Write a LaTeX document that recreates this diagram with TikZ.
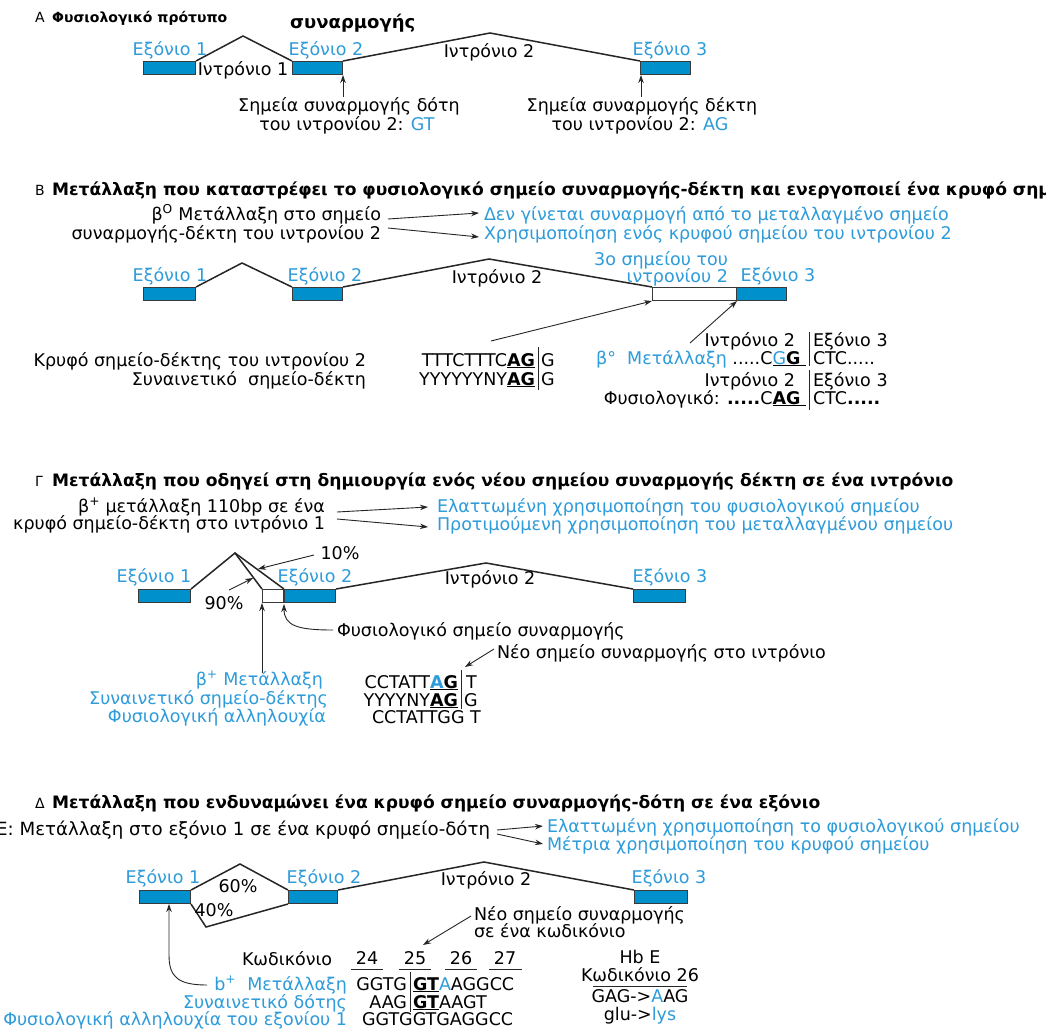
\documentclass[tikz,border=0pt]{standalone}
\usepackage{fontspec}
\setmainfont{DejaVu Sans}
\usetikzlibrary{arrows.meta}
\definecolor{exonblue}{HTML}{0090CC}
\definecolor{txtblue}{HTML}{2E9BDA}
\definecolor{edgegray}{HTML}{3A3A3A}
\begin{document}
\begin{tikzpicture}[x=1pt,y=-1pt,
 t/.style={font=\fontsize{17.5}{19.5}\selectfont, inner sep=0pt, outer sep=0pt},
 bl/.style={t, text=txtblue},
 hd/.style={font=\bfseries\fontsize{17.1}{19}\selectfont, inner sep=0pt, anchor=base west},
 lettr/.style={font=\fontsize{14}{16}\selectfont, inner sep=0pt, anchor=base west},
 exon/.style={draw=edgegray, fill=exonblue, line width=1pt, inner sep=0pt, minimum height=13pt, anchor=north west},
 wbox/.style={exon, fill=white},
 intr/.style={line width=1.5pt, black!85, line join=miter},
 arr/.style={-{Stealth[length=8pt,width=5.5pt]}, line width=0.9pt, black!85},
 sepbar/.style={line width=0.9pt, black!85},
 uline/.style={line width=0.9pt, black!85}
]
\useasboundingbox (0,0) rectangle (1046,1030);
\fill[white] (0,0) rectangle (1046,1030);

% ---------------- A ----------------
\node[lettr] (LA) at (35,23) {Α};
\node[hd, font=\bfseries\fontsize{14}{16}\selectfont] (HA) at (52,23) {Φυσιολογικό πρότυπο};
\node[font=\bfseries\fontsize{18}{20}\selectfont, inner sep=0pt, anchor=base west] (HA2) at (290,29) {συναρμογής};

\node[exon, minimum width=52pt] (A1) at (143,61) {};
\node[exon, minimum width=50pt] (A2) at (292,61) {};
\node[exon, minimum width=50pt] (A3) at (640,61) {};
\coordinate (Ap1) at (243,36);
\coordinate (Ap2) at (490,33);
\draw[intr] (A1.north east) -- (Ap1) -- (A2.north west);
\draw[intr] (A2.north east) -- (Ap2) -- (A3.north west);
\node[bl] (Ae1) at (170,50) {Εξόνιο 1};
\node[bl] (Ae2) at (326,50) {Εξόνιο 2};
\node[bl] (Ae3) at (670,50) {Εξόνιο 3};
\node[t] (Ai1) at (243,70) {Ιντρόνιο 1};
\node[t] (Ai2) at (489,52) {Ιντρόνιο 2};

\node[t, anchor=base] (Ad1) at (349,112) {Σημεία συναρμογής δότη};
\node[t, anchor=base] (Ad2) at (347,131) {του ιντρονίου 2: \textcolor{txtblue}{GT}};
\node[t, anchor=base] (Aa1) at (642,112) {Σημεία συναρμογής δέκτη};
\node[t, anchor=base] (Aa2) at (640,131) {του ιντρονίου 2: \textcolor{txtblue}{AG}};
\coordinate (Ad0) at (343,97);
\coordinate (Aa0) at (641,97);
\draw[arr] (Ad0) -- (Ad0 |- A2.south);
\draw[arr] (Aa0) -- (Aa0 |- A3.south);

% ---------------- B ----------------
\node[lettr] (LB) at (35,195) {Β};
\node[hd] (HB) at (52,195) {Μετάλλαξη που καταστρέφει το φυσιολογικό σημείο συναρμογής-δέκτη και ενεργοποιεί ένα κρυφό σημείο};

\node[t, anchor=base east] (Bm1) at (381,220) {β\textsuperscript{O} Μετάλλαξη στο σημείο};
\node[t, anchor=base east] (Bm2) at (381,239) {συναρμογής-δέκτη του ιντρονίου 2};
\node[bl, anchor=base west] (Bt1) at (484,220) {Δεν γίνεται συναρμογή από το μεταλλαγμένο σημείο};
\node[bl, anchor=base west] (Bt2) at (484,239) {Χρησιμοποίηση ενός κρυφού σημείου του ιντρονίου 2};
\coordinate (Bs1) at (388,219);
\coordinate (Bs2) at (388,228);
\coordinate (Bf1) at (479,213);
\coordinate (Bf2) at (479,237);
\draw[arr] (Bs1) -- (Bf1);
\draw[arr] (Bs2) -- (Bf2);

\node[exon, minimum width=52pt] (B1) at (143,287) {};
\node[exon, minimum width=50pt] (B2) at (292,287) {};
\node[wbox, minimum width=84pt] (Bw) at (652,287) {};
\node[exon, minimum width=50pt] (B3) at (736,287) {};
\coordinate (Bp1) at (242,263);
\coordinate (Bp2) at (489,259);
\draw[intr] (B1.north east) -- (Bp1) -- (B2.north west);
\draw[intr] (B2.north east) -- (Bp2) -- (Bw.north west);
\node[bl] (Be1) at (170,276) {Εξόνιο 1};
\node[bl] (Be2) at (325,276) {Εξόνιο 2};
\node[t] (Bi2) at (497,278) {Ιντρόνιο 2};
\node[bl, anchor=base east] (Bc1) at (728,265) {3ο σημείου του};
\node[bl, anchor=base east] (Bc2) at (728,282) {ιντρονίου 2};
\node[bl] (Be3) at (778,276) {Εξόνιο 3};

\node[t, anchor=base east] (Bk1) at (366,366) {Κρυφό σημείο-δέκτης του ιντρονίου 2};
\node[t, anchor=base east] (Bk2) at (366,385) {Συναινετικό\ \ σημείο-δέκτη};
\node[t, anchor=base east] (Bq1) at (535,366) {TTTCTTTC\underline{\textbf{AG}}};
\node[t, anchor=base west] (Bq1r) at (541,366) {G};
\node[t, anchor=base east] (Bq2) at (535,385) {YYYYYYNY\underline{\textbf{AG}}};
\node[t, anchor=base west] (Bq2r) at (541,385) {G};
\coordinate (Bv1) at (538,347);
\coordinate (Bv2) at (538,390);
\draw[sepbar] (Bv1) -- (Bv2);
\coordinate (Bk0) at (491,341);
\draw[arr] (Bk0) -- (Bw.south west);

\node[t, anchor=base east] (Bi3) at (795,346) {Ιντρόνιο 2};
\node[t, anchor=base west] (Be4) at (813,346) {Εξόνιο 3};
\node[t, anchor=base east] (Bmu) at (806,364) {\textcolor{txtblue}{β°\ \ Μετάλλαξη} .....C\underline{\textcolor{txtblue}{G}\textbf{G}\ }};
\node[t, anchor=base west] (Bmur) at (813,364) {CTC.....};
\node[t, anchor=base east] (Bi4) at (795,386) {Ιντρόνιο 2};
\node[t, anchor=base west] (Be5) at (813,386) {Εξόνιο 3};
\node[t, anchor=base east] (Bph) at (806,404) {Φυσιολογικό: \textbf{.....}C\underline{\textbf{AG}\ }};
\node[t, anchor=base west] (Bphr) at (813,404) {CTC\textbf{.....}};
\coordinate (Bv3) at (809,332);
\coordinate (Bv4) at (809,366);
\coordinate (Bv5) at (809,370);
\coordinate (Bv6) at (809,410);
\draw[sepbar] (Bv3) -- (Bv4);
\draw[sepbar] (Bv5) -- (Bv6);
\coordinate (Bb0) at (690,343);
\draw[arr] (Bb0) -- (Bw.south east);

% ---------------- Gamma ----------------
\node[lettr] (LG) at (35,486) {Γ};
\node[hd] (HG) at (52,486) {Μετάλλαξη που οδηγεί στη δημιουργία ενός νέου σημείου συναρμογής δέκτη σε ένα ιντρόνιο};

\node[t, anchor=base east] (Gm1) at (325,512) {β\textsuperscript{+} μετάλλαξη 110bp σε ένα};
\node[t, anchor=base east] (Gm2) at (325,529) {κρυφό σημείο-δέκτη στο ιντρόνιο 1};
\node[bl, anchor=base west] (Gb1) at (437,512) {Ελαττωμένη χρησιμοποίηση του φυσιολογικού σημείου};
\node[bl, anchor=base west] (Gb2) at (437,530) {Προτιμούμενη χρησιμοποίηση του μεταλλαγμένου σημείου};
\coordinate (Gs1) at (337,512);
\coordinate (Gs2) at (337,519);
\coordinate (Gf1) at (428,507);
\coordinate (Gf2) at (428,527);
\draw[arr] (Gs1) -- (Gf1);
\draw[arr] (Gs2) -- (Gf2);

\node[exon, minimum width=52pt] (G1) at (138,589) {};
\node[wbox, minimum width=21pt] (Gw) at (262,589) {};
\node[exon, minimum width=51pt] (G2) at (284,589) {};
\node[exon, minimum width=52pt] (G3) at (633,589) {};
\coordinate (Gp1) at (235,553);
\coordinate (Gp2) at (486,563);
\draw[intr] (G1.north east) -- (Gp1) -- (Gw.north west);
\draw[intr] (Gp1) -- (G2.north west);
\draw[intr] (G2.north east) -- (Gp2) -- (G3.north west);
\node[bl] (Ge1) at (154,577) {Εξόνιο 1};
\node[bl] (Ge2) at (315,577) {Εξόνιο 2};
\node[t] (Gi2) at (490,579) {Ιντρόνιο 2};
\node[bl] (Ge3) at (670,577) {Εξόνιο 3};
\node[t] (G10) at (340,553) {10\%};
\node[t] (G90) at (224,603) {90\%};
\coordinate (G10a) at (314,555);
\coordinate (G10b) at (258,569);
\draw[arr] (G10a) -- (G10b);
\coordinate (G90a) at (229,590);
\coordinate (G90b) at (253,578);
\draw[arr] (G90a) -- (G90b);

\coordinate (Gup) at (262,673);
\draw[arr] (Gup) -- (Gup |- Gw.south);
\node[t, anchor=base west] (Gf) at (337,636) {Φυσιολογικό σημείο συναρμογής};
\coordinate (Gc0) at (333,630);
\coordinate (Gc1) at (284,604);
\draw[arr] (Gc0) .. controls (298,630) and (284,626) .. (Gc1);
\node[t, anchor=base west] (Gn) at (497,658) {Νέο σημείο συναρμογής στο ιντρόνιο};
\coordinate (Gn0) at (494,649);
\coordinate (Gn1) at (465,667);
\draw[arr] (Gn0) -- (Gn1);

\node[bl, anchor=base east] (Gl1) at (323,685) {β\textsuperscript{+} Μετάλλαξη};
\node[bl, anchor=base east] (Gl2) at (328,704) {Συναινετικό σημείο-δέκτης};
\node[bl, anchor=base east] (Gl3) at (326,722) {Φυσιολογική αλληλουχία};
\node[t, anchor=base east] (Gq1) at (458,688) {CCTATT\underline{\textcolor{txtblue}{\textbf{A}}\textbf{G}}};
\node[t, anchor=base west] (Gq1r) at (466,688) {T};
\node[t, anchor=base east] (Gq2) at (458,706) {YYYYNY\underline{\textbf{AG}}};
\node[t, anchor=base west] (Gq2r) at (464,706) {G};
\node[t, anchor=base west] (Gq3) at (372,723) {CCTATTGG T};
\coordinate (Gv1) at (461,670);
\coordinate (Gv2) at (461,709);
\draw[sepbar] (Gv1) -- (Gv2);

% ---------------- Delta ----------------
\node[lettr] (LD) at (35,808) {Δ};
\node[hd] (HD) at (52,808) {Μετάλλαξη που ενδυναμώνει ένα κρυφό σημείο συναρμογής-δότη σε ένα εξόνιο};

\node[t, font=\fontsize{18.2}{20}\selectfont, anchor=base east] (Dm) at (490,835) {Ε: Μετάλλαξη στο εξόνιο 1 σε ένα κρυφό σημείο-δότη};
\node[bl, anchor=base west] (Db1) at (547,832) {Ελαττωμένη χρησιμοποίηση το φυσιολογικού σημείου};
\node[bl, anchor=base west] (Db2) at (547,850) {Μέτρια χρησιμοποίηση του κρυφού σημείου};
\coordinate (Ds1) at (497,830);
\coordinate (Ds2) at (497,834);
\coordinate (Df1) at (543,826);
\coordinate (Df2) at (543,844);
\draw[arr] (Ds1) -- (Df1);
\draw[arr] (Ds2) -- (Df2);

\node[exon, minimum width=51pt] (D1) at (139,890) {};
\node[exon, minimum width=49pt] (D2) at (288,890) {};
\node[exon, minimum width=53pt] (D3) at (634,890) {};
\coordinate (Dp1) at (240,864);
\coordinate (Dp2) at (484,862);
\coordinate (Dlow) at (206,927);
\draw[intr] (D1.north east) -- (Dp1) -- (D2.north west);
\draw[intr] (D1.south east) -- (Dlow) -- (D2.south west);
\draw[intr] (D2.north east) -- (Dp2) -- (D3.north west);
\node[bl] (De1) at (163,878) {Εξόνιο 1};
\node[t] (D60) at (238,886) {60\%};
\node[bl] (De2) at (324,878) {Εξόνιο 2};
\node[t] (Di2) at (486,880) {Ιντρόνιο 2};
\node[bl] (De3) at (669,878) {Εξόνιο 3};
\node[t] (D40) at (214,910) {40\%};

\node[t, anchor=base west] (Dn1) at (474,920) {Νέο σημείο συναρμογής};
\node[t, anchor=base west] (Dn2) at (474,937) {σε ένα κωδικόνιο};
\coordinate (Dn0) at (471,916);
\coordinate (Dn9) at (423,945);
\draw[arr] (Dn0) -- (Dn9);

\node[t, anchor=base west] (Dk) at (242,965) {Κωδικόνιο};
\node[t, anchor=base] (D24) at (367,964) {24};
\node[t, anchor=base] (D25) at (415,964) {25};
\node[t, anchor=base] (D26) at (461,964) {26};
\node[t, anchor=base] (D27) at (505,964) {27};
\draw[uline] (351,969) -- (383,969);
\draw[uline] (399,969) -- (431,969);
\draw[uline] (445,969) -- (477,969);
\draw[uline] (489,969) -- (522,969);

\node[bl, anchor=base east] (Dl1) at (347,990) {b\textsuperscript{+}\ \ Μετάλλαξη};
\node[bl, anchor=base east] (Dl2) at (347,1008) {Συναινετικό δότης};
\node[bl, anchor=base east] (Dl3) at (347,1025) {Φυσιολογική αλληλουχία του εξονίου 1};
\node[t, anchor=base east] (Dq1) at (407,990) {GGTG};
\node[t, anchor=base west] (Dq1r) at (413,990) {\underline{\textbf{GT}}\textcolor{txtblue}{A}AGGCC};
\node[t, anchor=base east] (Dq2) at (407,1008) {AAG};
\node[t, anchor=base west] (Dq2r) at (413,1008) {\underline{\textbf{GT}}AAGT};
\node[t, anchor=base west] (Dq3) at (362,1025) {GGTGGTGAGGCC};
\coordinate (Dv1) at (410,972);
\coordinate (Dv2) at (410,1012);
\draw[sepbar] (Dv1) -- (Dv2);

\node[t, anchor=base] (Dh1) at (640,963) {Hb E};
\node[t, anchor=base] (Dh2) at (640,981) {Κωδικόνιο 26};
\draw[uline] (593,986) -- (687,986);
\node[t, anchor=base] (Dh3) at (640,1002) {GAG->\textcolor{txtblue}{A}AG};
\node[t, anchor=base] (Dh4) at (640,1020) {glu->\textcolor{txtblue}{lys}};

\coordinate (Dc0) at (207,985);
\coordinate (Dc1) at (169,904);
\draw[arr] (Dc0) .. controls (178,985) and (169,977) .. (169,955) -- (Dc1);
\end{tikzpicture}
\end{document}
